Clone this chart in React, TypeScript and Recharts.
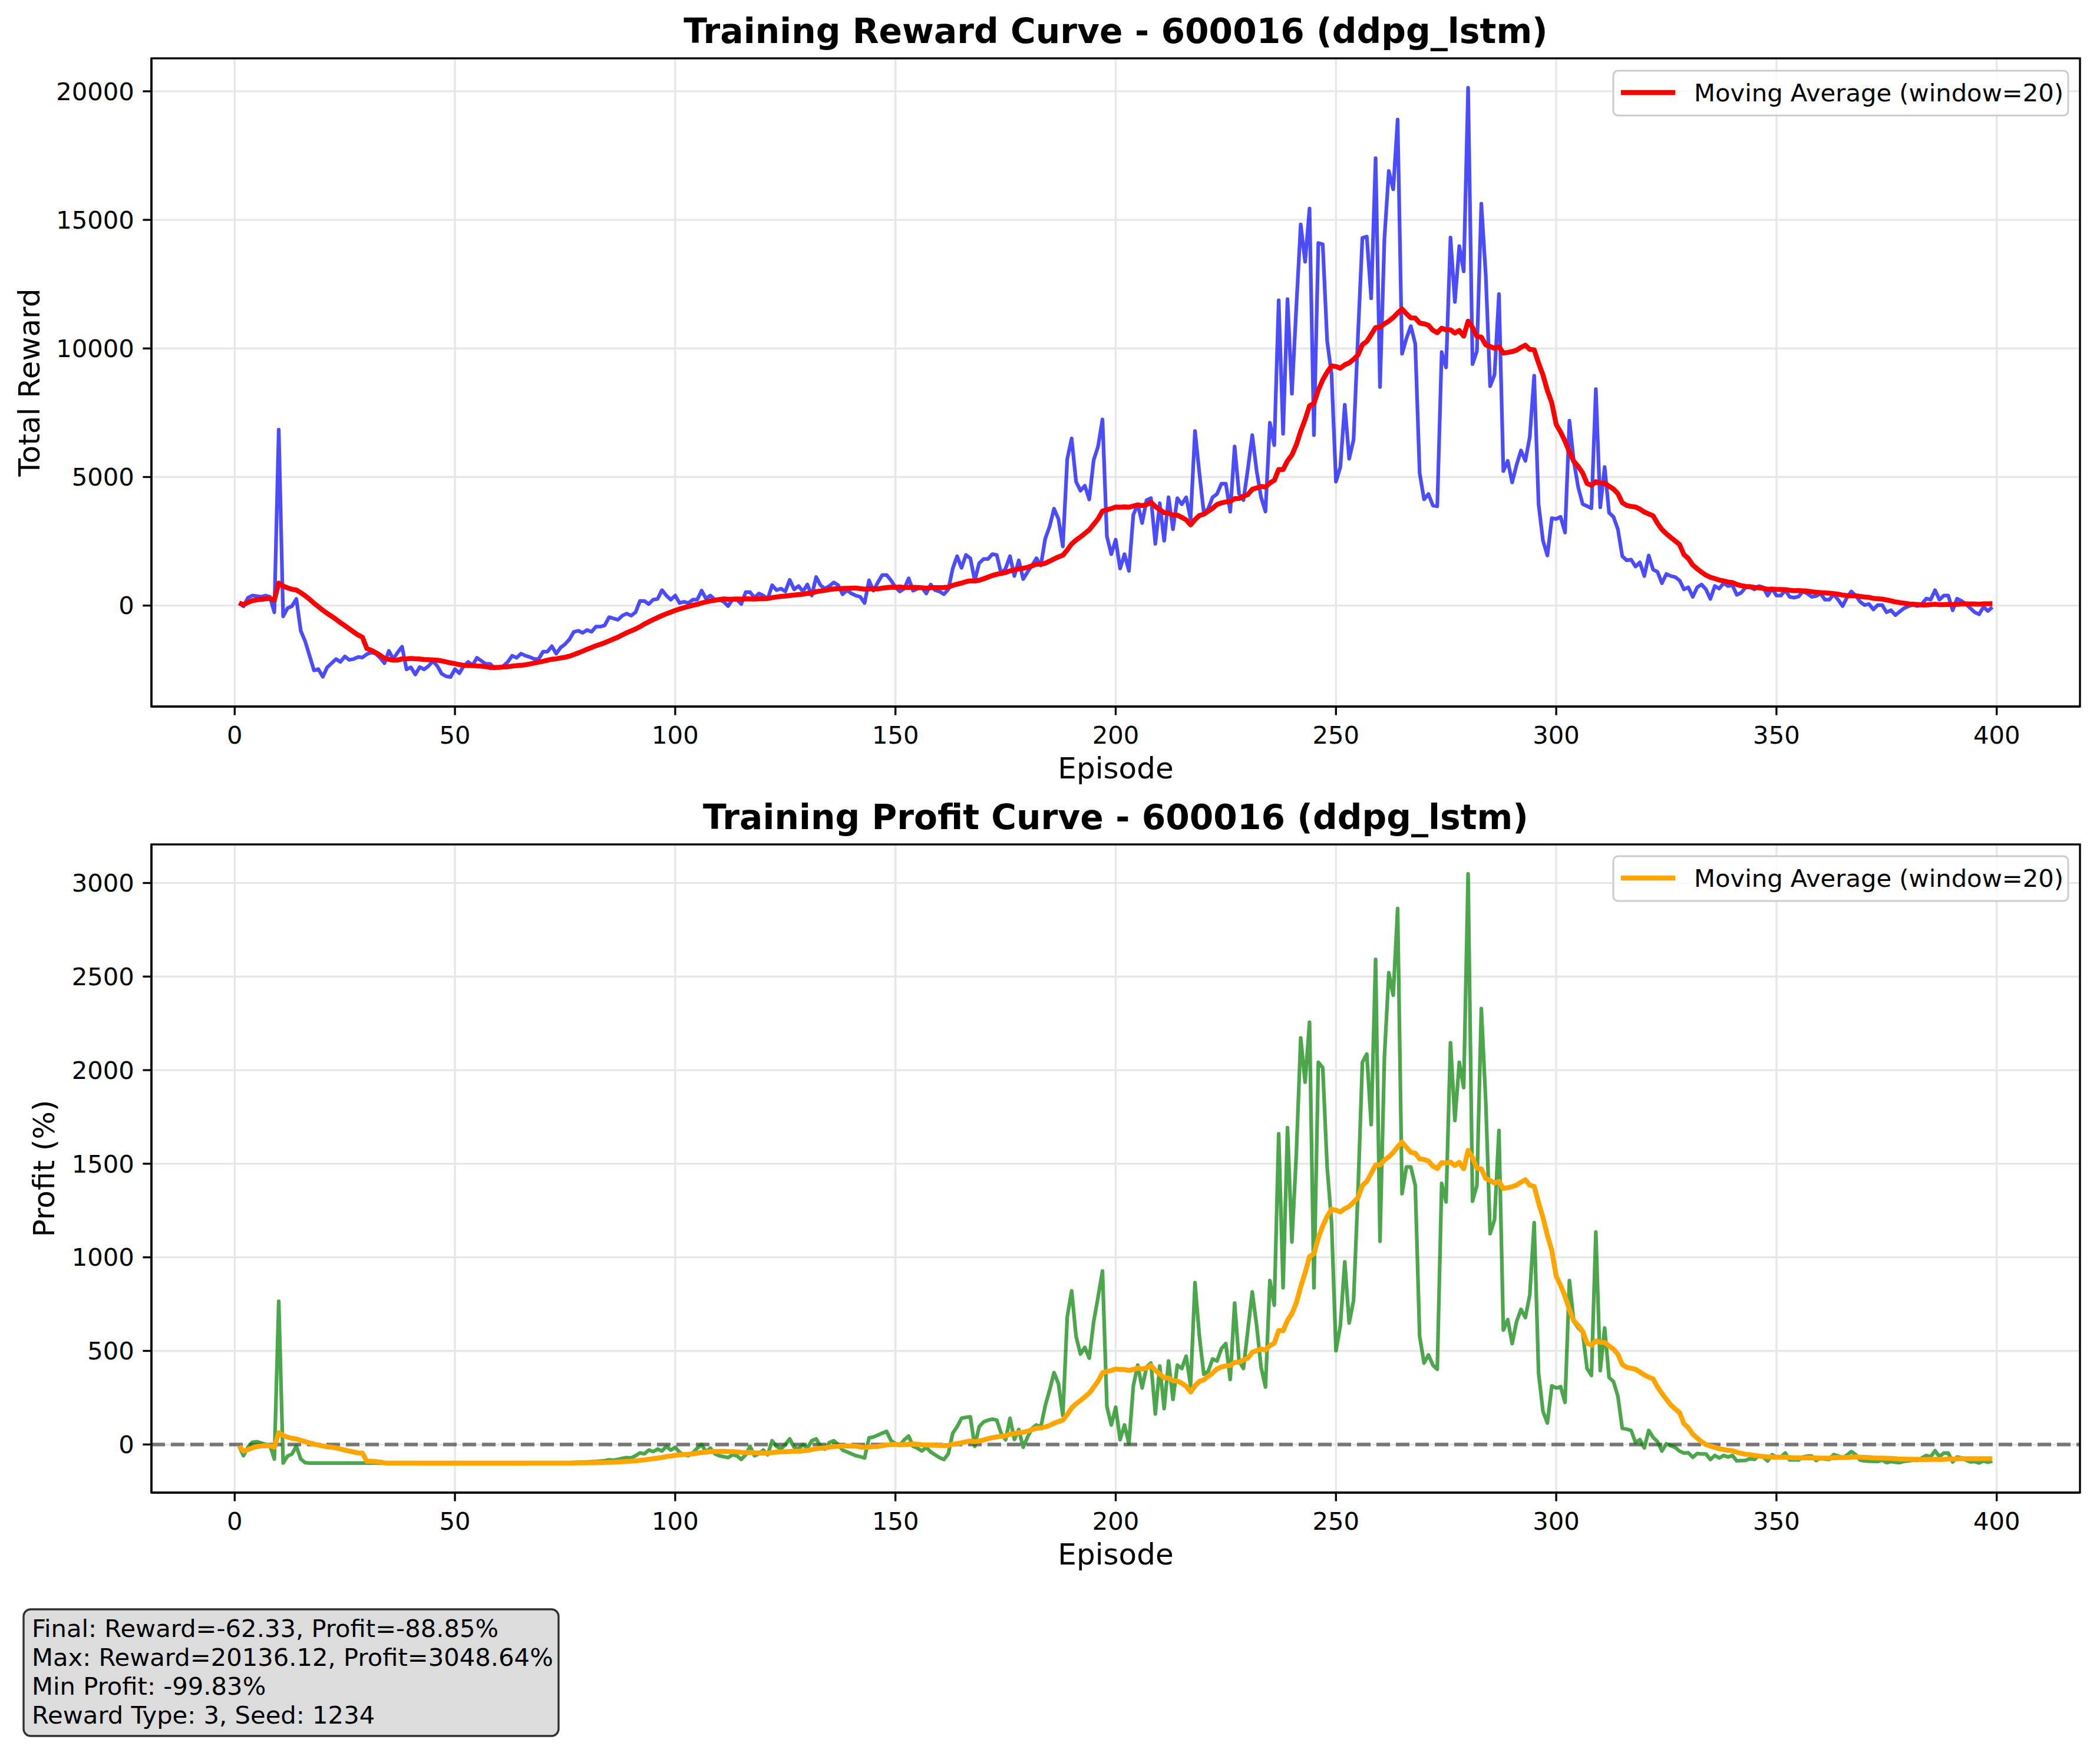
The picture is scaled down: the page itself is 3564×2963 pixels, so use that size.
import React from 'react'
import { LineChart, Line, XAxis, YAxis, CartesianGrid, ReferenceLine } from 'recharts'

// total reward per episode (episodes 1..399)
const rewards = [
  100, -30, 300, 390, 370, 340, 390, 340, -260, 6840,
  -420, -100, -20, 260, -980, -1390, -1950, -2520, -2470, -2770,
  -2400, -2240, -2080, -2190, -1980, -2110, -2080, -2000, -2020, -1890,
  -1820, -1870, -2030, -2240, -1760, -2080, -1820, -1600, -2480, -2400,
  -2680, -2390, -2480, -2350, -2160, -2350, -2650, -2750, -2780, -2470,
  -2630, -2350, -2190, -2320, -2030, -2150, -2270, -2270, -2440, -2400,
  -2350, -2190, -1950, -2030, -1870, -1950, -2000, -2080, -2080, -1790,
  -1790, -1580, -1870, -1630, -1500, -1310, -1020, -980, -1060, -950,
  -1020, -820, -820, -770, -450, -500, -550, -390, -310, -390,
  -260, 180, 180, 60, 230, 260, 600, 390, 230, 390,
  100, 150, 100, 230, 230, 580, 270, 390, 230, 230,
  150, -20, 230, 230, 60, 520, 520, 310, 470, 390,
  260, 790, 600, 660, 550, 1000, 630, 760, 550, 820,
  390, 1110, 790, 660, 760, 900, 790, 440, 600, 470,
  390, 340, 100, 980, 580, 900, 1190, 1190, 980, 710,
  550, 660, 1060, 580, 660, 710, 470, 820, 600, 550,
  440, 630, 1440, 1920, 1470, 1970, 1840, 980, 1650, 1810,
  1810, 2000, 1970, 1240, 1440, 1920, 1150, 1760, 1030, 1310,
  1560, 1840, 1560, 2600, 3080, 3770, 3370, 2300, 5700, 6500,
  4820, 4470, 4660, 4130, 5660, 6190, 7240, 2690, 2000, 2560,
  1440, 2000, 1350, 3530, 3940, 3210, 4100, 4180, 2400, 3980,
  2520, 4210, 2970, 4180, 3940, 4210, 3370, 6790, 5150, 3610,
  3770, 4210, 4340, 4740, 4740, 3650, 6190, 4340, 4100, 5310,
  6630, 5230, 4210, 3660, 7110, 6240, 11870, 6680, 11920, 8240,
  11600, 14820, 13370, 15440, 6630, 14100, 14050, 10300, 9000, 4820,
  5390, 7810, 5710, 6450, 10500, 14300, 14350, 11950, 17400, 8500,
  14260, 16900, 16190, 18900, 9790, 10390, 10870, 10180, 5150, 4130,
  4340, 3890, 3860, 9860, 9260, 14310, 11810, 13980, 13000, 20136.12,
  9390, 9900, 15630, 12890, 8530, 8980, 12110, 5230, 5630, 4790,
  5470, 6030, 5630, 6560, 8940, 3940, 2520, 1950, 3400, 3370,
  3450, 2840, 7190, 5600, 4600, 3950, 3870, 3790, 8420, 3820,
  5390, 3610, 3450, 2970, 1920, 1760, 1790, 1520, 1680, 1150,
  1950, 1400, 1310, 870, 1230, 1150, 1110, 980, 630, 710,
  340, 710, 820, 630, 260, 760, 660, 870, 760, 790,
  420, 500, 710, 710, 630, 760, 710, 390, 660, 390,
  390, 600, 340, 310, 350, 550, 470, 340, 370, 470,
  230, 230, 440, 230, -20, 310, 550, 390, 150, 20,
  60, -150, 20, 20, -260, -180, -370, -230, -100, -20,
  20, -20, 60, 270, 230, 600, 230, 390, 390, -180,
  270, 180, 60, -100, -260, -340, -50, -210, -62.33,
]

// profit (%) per episode
const profits = [
  -10, -60, -15, 12, 15, 8, 1, -4, -78, 765,
  -99, -62, -51, -9, -78, -97, -99.2, -99.5, -99.6, -99.7,
  -99.7, -99.6, -99.7, -99.8, -99.7, -99.6, -99.7, -99.7, -99.6, -99.7,
  -99.7, -99.7, -99.8, -99.7, -99.6, -99.7, -99.7, -99.6, -99.8, -99.8,
  -99.8, -99.7, -99.8, -99.7, -99.7, -99.7, -99.8, -99.8, -99.83, -99.8,
  -99.8, -99.7, -99.7, -99.7, -99.6, -99.7, -99.7, -99.7, -99.8, -99.8,
  -99.7, -99.7, -99.6, -99.6, -99.5, -99.6, -99.6, -99.6, -99.6, -99.4,
  -99.4, -99.2, -98.5, -98, -97.5, -97, -96, -95, -95, -93,
  -92, -91, -89, -87, -82, -84, -80, -74, -70, -72,
  -60, -45, -50, -30, -38, -25, -35, -10, -30, -15,
  -42, -55, -60, -45, -20, 0, -40, -20, -50, -60,
  -65, -70, -55, -60, -80, -55, -10, -60, -50, -30,
  -55, 20, -10, -25, 0, 30, -15, -25, 0, -20,
  20, 30, -10, -25, 10, 20, 0, -30, -40, -50,
  -60, -65, -72, 35, 40, 50, 60, 70, 20, 5,
  -5, 25, 45, -10, -20, -35, -15, -40, -55, -70,
  -80, -50, 60, 95, 140, 145, 148, -10, 95, 120,
  130, 135, 130, 60, 25, 140, 27, 80, -15, 40,
  85, 104, 93, 207, 291, 384, 325, 155, 682, 821,
  578, 483, 519, 461, 656, 788, 927, 203, 104, 199,
  26, 104, 4, 313, 424, 302, 413, 435, 163, 419,
  192, 446, 241, 424, 406, 472, 313, 865, 578, 375,
  391, 457, 446, 512, 539, 347, 755, 446, 406, 611,
  815, 634, 413, 307, 876, 744, 1660, 837, 1693, 1082,
  1550, 2172, 1936, 2256, 837, 2042, 2013, 1483, 1185, 501,
  634, 976, 649, 770, 1350, 2042, 2086, 1709, 2592, 1086,
  2068, 2521, 2400, 2863, 1340, 1483, 1483, 1384, 578, 435,
  479, 424, 402, 1395, 1296, 2146, 1731, 2042, 1907, 3048.64,
  1300, 1384, 2329, 1837, 1126, 1201, 1678, 611, 667, 539,
  656, 722, 678, 799, 1185, 380, 177, 115, 313, 302,
  309, 225, 876, 656, 623, 600, 406, 369, 1135, 395,
  622, 358, 336, 258, 86, 82, 75, 11, 26, -18,
  75, 38, 15, -35, 4, -7, -15, -36, -46, -44,
  -69, -48, -51, -51, -80, -59, -72, -59, -67, -59,
  -88, -86, -85, -76, -80, -59, -67, -88, -55, -67,
  -67, -46, -83, -81, -83, -67, -62, -62, -86, -72,
  -78, -80, -54, -62, -72, -57, -38, -55, -83, -88,
  -89, -90, -91, -83, -97, -91, -95, -97, -90, -88,
  -83, -85, -72, -59, -67, -33, -65, -46, -46, -93,
  -67, -72, -83, -93, -91, -99, -88, -95, -88.85,
]

const episodeTicks = [0, 50, 100, 150, 200, 250, 300, 350, 400]
const rewardTicks = [0, 5000, 10000, 15000, 20000]
const profitTicks = [0, 500, 1000, 1500, 2000, 2500, 3000]

const statLines = [
  'Final: Reward=-62.33, Profit=-88.85%',
  'Max: Reward=20136.12, Profit=3048.64%',
  'Min Profit: -99.83%',
  'Reward Type: 3, Seed: 1234',
]

const WINDOW = 20
const FONT = 'DejaVu Sans'

function movingAverage(values: number[], win: number) {
  return values.map((_, i) => {
    const part = values.slice(Math.max(0, i - win + 1), i + 1)
    return part.reduce((a, b) => a + b, 0) / part.length
  })
}

function padded(values: number[]): [number, number] {
  const lo = Math.min(...values)
  const hi = Math.max(...values)
  const pad = (hi - lo) * 0.05
  return [lo - pad, hi + pad]
}

const episodes = rewards.map((_, i) => i + 1)
const rewardMA = movingAverage(rewards, WINDOW)
const profitMA = movingAverage(profits, WINDOW)

const rewardData = episodes.map((ep, i) => ({ episode: ep, reward: rewards[i], ma: rewardMA[i] }))
const profitData = episodes.map((ep, i) => ({ episode: ep, profit: profits[i], ma: profitMA[i] }))

const xDomain = padded(episodes)
const tickStyle = { fontSize: 41.7, fill: 'black', fontFamily: FONT }
const axisStroke = { stroke: 'black', strokeWidth: 3.33 }
const gridColor = '#e7e7e7'

const LEFT = 257
const RIGHT = 3530
const PLOT_W = RIGHT - LEFT

function Legend({ y, color }: { y: number; color: string }) {
  return (
    <g>
      <rect x={2738} y={y} width={772} height={76} rx={8} fill="white" fillOpacity={0.8} stroke="#cccccc" strokeWidth={3} />
      <line x1={2755} x2={2839} y1={y + 37} y2={y + 37} stroke={color} strokeWidth={8.33} strokeLinecap="square" />
      <text x={2875} y={y + 52} fontSize={41.7} fontFamily={FONT}>Moving Average (window=20)</text>
    </g>
  )
}

export default function App() {
  return (
    <div style={{ position: 'absolute', left: 0, top: 0, width: 3564, height: 2963, background: 'white', overflow: 'hidden' }}>
      <div style={{ position: 'absolute', left: 0, top: 0 }}>
        <LineChart width={3564} height={1330} data={rewardData} margin={{ top: 99, right: 3564 - RIGHT, bottom: 31, left: 0 }}>
          <CartesianGrid stroke={gridColor} strokeWidth={3.33} />
          <XAxis dataKey="episode" type="number" domain={xDomain} ticks={episodeTicks} allowDataOverflow height={100}
            tick={tickStyle} tickLine={axisStroke} axisLine={axisStroke} tickSize={14.6} tickMargin={19} />
          <YAxis type="number" domain={padded(rewards)} ticks={rewardTicks} allowDataOverflow width={LEFT}
            tick={tickStyle} tickLine={axisStroke} axisLine={axisStroke} tickSize={14.6} tickMargin={14.6} />
          <Line type="linear" dataKey="reward" stroke="blue" strokeOpacity={0.7} strokeWidth={6.25} strokeLinejoin="round"
            dot={false} activeDot={false} isAnimationActive={false} />
          <Line type="linear" dataKey="ma" stroke="red" strokeWidth={8.33} strokeLinejoin="round"
            dot={false} activeDot={false} isAnimationActive={false} />
        </LineChart>
      </div>
      <div style={{ position: 'absolute', left: 0, top: 1340 }}>
        <LineChart width={3564} height={1330} data={profitData} margin={{ top: 93, right: 3564 - RIGHT, bottom: 37, left: 0 }}>
          <CartesianGrid stroke={gridColor} strokeWidth={3.33} />
          <XAxis dataKey="episode" type="number" domain={xDomain} ticks={episodeTicks} allowDataOverflow height={100}
            tick={tickStyle} tickLine={axisStroke} axisLine={axisStroke} tickSize={14.6} tickMargin={19} />
          <YAxis type="number" domain={padded(profits)} ticks={profitTicks} allowDataOverflow width={LEFT}
            tick={tickStyle} tickLine={axisStroke} axisLine={axisStroke} tickSize={14.6} tickMargin={14.6} />
          <ReferenceLine y={0} stroke="black" strokeOpacity={0.5} strokeWidth={6.25} strokeDasharray="23 10" />
          <Line type="linear" dataKey="profit" stroke="green" strokeOpacity={0.7} strokeWidth={6.25} strokeLinejoin="round"
            dot={false} activeDot={false} isAnimationActive={false} />
          <Line type="linear" dataKey="ma" stroke="orange" strokeWidth={8.33} strokeLinejoin="round"
            dot={false} activeDot={false} isAnimationActive={false} />
        </LineChart>
      </div>
      <svg width={3564} height={2963} style={{ position: 'absolute', left: 0, top: 0, pointerEvents: 'none' }}>
        {/* spines */}
        <rect x={LEFT} y={99} width={PLOT_W} height={1100} fill="none" stroke="black" strokeWidth={3.33} />
        <rect x={LEFT} y={1433} width={PLOT_W} height={1100} fill="none" stroke="black" strokeWidth={3.33} />

        <text x={(LEFT + RIGHT) / 2} y={73} textAnchor="middle" fontSize={58.3} fontWeight="bold" fontFamily={FONT}>
          Training Reward Curve - 600016 (ddpg_lstm)
        </text>
        <text x={(LEFT + RIGHT) / 2} y={1407} textAnchor="middle" fontSize={58.3} fontWeight="bold" fontFamily={FONT}>
          Training Profit Curve - 600016 (ddpg_lstm)
        </text>

        <text x={(LEFT + RIGHT) / 2} y={1321} textAnchor="middle" fontSize={50} fontFamily={FONT}>Episode</text>
        <text x={(LEFT + RIGHT) / 2} y={2655} textAnchor="middle" fontSize={50} fontFamily={FONT}>Episode</text>
        <text transform="translate(67,649) rotate(-90)" textAnchor="middle" fontSize={50} fontFamily={FONT}>Total Reward</text>
        <text transform="translate(92,1983) rotate(-90)" textAnchor="middle" fontSize={50} fontFamily={FONT}>Profit (%)</text>

        <Legend y={120} color="red" />
        <Legend y={1453} color="orange" />

        <rect x={40} y={2731} width={908} height={215} rx={12} fill="#d3d3d3" fillOpacity={0.8} stroke="black" strokeOpacity={0.8} strokeWidth={3.33} />
        {statLines.map((s, i) => (
          <text key={s} x={54} y={2778 + i * 49} fontSize={41.7} fontFamily={FONT}>{s}</text>
        ))}
      </svg>
    </div>
  )
}
